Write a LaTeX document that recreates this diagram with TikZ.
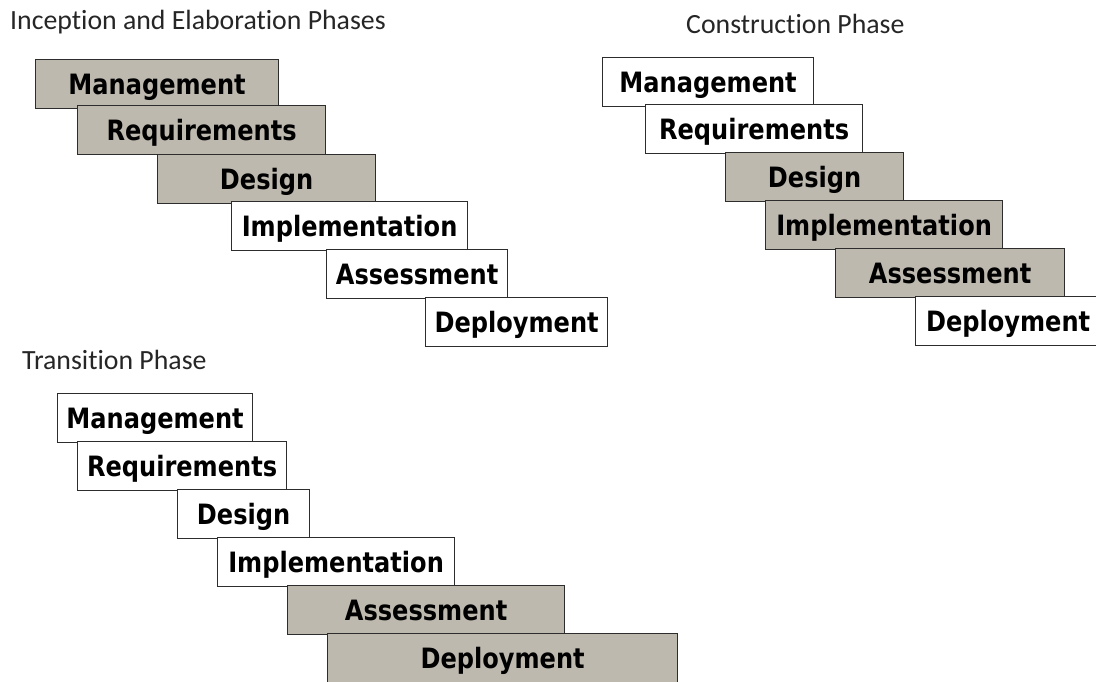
\documentclass[tikz,border=0pt]{standalone}
\usepackage{fontspec}
\usepackage{tikz}
\usetikzlibrary{positioning}
\newfontfamily\titlefont[RawFeature={-liga}]{Carlito}
\newfontfamily\boxfont[FakeStretch=0.86]{DejaVu Sans}
\definecolor{phasegray}{RGB}{190,185,175}
\definecolor{phaseline}{RGB}{45,45,45}

\tikzset{phase/.style = {draw=phaseline, line width=1.2pt, fill=white,
  anchor=north west, inner sep=0pt, minimum height=49pt,
  font=\boxfont\bfseries\fontsize{28}{28}\selectfont,
  text height=20.4pt, text depth=0pt},
  active/.style = {phase, fill=phasegray},
  title/.style = {anchor=base west, inner sep=0pt,
  font=\titlefont\fontsize{27.8}{28}\selectfont, text=black!85}}

\begin{document}
\begin{tikzpicture}[x=1pt,y=-1pt]
\clip (0,0) rectangle (1096,681);
\fill[white] (0,0) rectangle (1096,681);
% inception and elaboration
\node[title] (inc) at (10,29) {Inception and Elaboration Phases};
\node[active, minimum width=243pt] (man1) at (35,59) {Management};
\node[active, minimum width=248pt] (req1) at (77,105) {Requirements};
\node[active, minimum width=218pt] (des1) at (157,154) {Design};
\node[phase, minimum width=236pt] (imp1) at (231,201) {Implementation};
\node[phase, minimum width=181pt] (ass1) at (326,249) {Assessment};
\node[phase, minimum width=182pt] (dep1) at (425,297) {Deployment};
% construction
\node[title] (con) at (686,33) {Construction Phase};
\node[phase, minimum width=211pt] (man2) at (602,57) {Management};
\node[phase, minimum width=217pt] (req2) at (645,104) {Requirements};
\node[active, minimum width=178pt] (des2) at (725,152) {Design};
\node[active, minimum width=237pt] (imp2) at (765,200) {Implementation};
\node[active, minimum width=229pt] (ass2) at (835,248) {Assessment};
\node[phase, minimum width=185pt] (dep2) at (915,296) {Deployment};
% transition
\node[title] (tra) at (22,369) {Transition Phase};
\node[phase, minimum width=195pt] (man3) at (57,393) {Management};
\node[phase, minimum width=209pt] (req3) at (77,441) {Requirements};
\node[phase, minimum width=132pt] (des3) at (177,489) {Design};
\node[phase, minimum width=237pt] (imp3) at (217,537) {Implementation};
\node[active, minimum width=277pt] (ass3) at (287,585) {Assessment};
\node[active, minimum width=350pt] (dep3) at (327,633) {Deployment};
\end{tikzpicture}
\end{document}
